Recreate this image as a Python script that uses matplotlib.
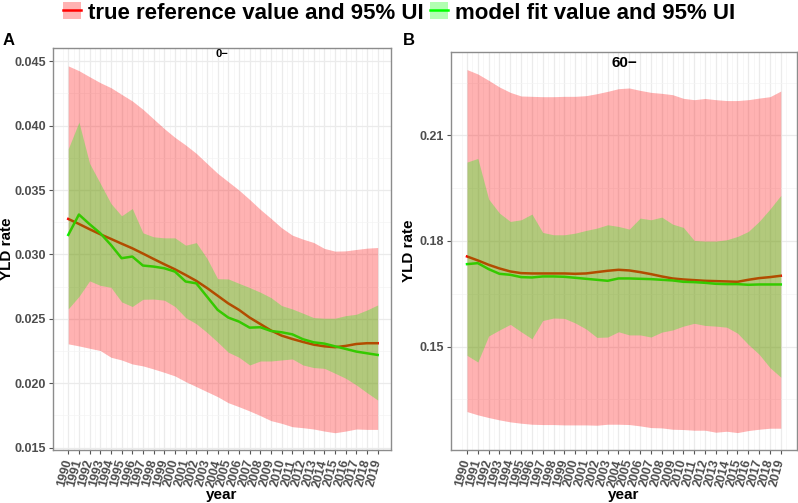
import matplotlib
matplotlib.use("Agg")
import matplotlib.pyplot as plt
from matplotlib.patches import Patch
from matplotlib.lines import Line2D
import numpy as np

plt.rcParams['font.family'] = ['Liberation Sans', 'DejaVu Sans']

years = list(range(1990, 2020))

# panel A, age group "0-"
ref_a = [0.03276, 0.03237, 0.03196, 0.03157, 0.03121, 0.03084, 0.03048, 0.03007, 0.02965, 0.02924,
         0.02885, 0.02841, 0.02795, 0.02740, 0.02680, 0.02620, 0.02570, 0.02510, 0.02460, 0.02410,
         0.02370, 0.02344, 0.02321, 0.02300, 0.02287, 0.02280, 0.02290, 0.02305, 0.02311, 0.02311]
ref_a_lo = [0.02306, 0.02290, 0.02272, 0.02254, 0.02202, 0.02181, 0.02150, 0.02135, 0.02111, 0.02085,
            0.02057, 0.02013, 0.01974, 0.01935, 0.01896, 0.01849, 0.01818, 0.01785, 0.01749, 0.01710,
            0.01689, 0.01663, 0.01655, 0.01645, 0.01629, 0.01616, 0.01629, 0.01645, 0.01642, 0.01642]
ref_a_hi = [0.04464, 0.04427, 0.04380, 0.04334, 0.04295, 0.04243, 0.04192, 0.04127, 0.04052, 0.03977,
            0.03909, 0.03850, 0.03785, 0.03707, 0.03630, 0.03565, 0.03500, 0.03427, 0.03350, 0.03280,
            0.03207, 0.03150, 0.03119, 0.03093, 0.03047, 0.03026, 0.03028, 0.03039, 0.03049, 0.03054]
fit_a = [0.03152, 0.03310, 0.03235, 0.03165, 0.03074, 0.02971, 0.02984, 0.02914, 0.02906, 0.02893,
         0.02867, 0.02790, 0.02776, 0.02673, 0.02570, 0.02510, 0.02479, 0.02432, 0.02435, 0.02406,
         0.02396, 0.02380, 0.02342, 0.02318, 0.02308, 0.02287, 0.02267, 0.02246, 0.02233, 0.02220]
fit_a_lo = [0.02578, 0.02674, 0.02795, 0.02760, 0.02745, 0.02632, 0.02596, 0.02652, 0.02654, 0.02645,
            0.02596, 0.02510, 0.02462, 0.02395, 0.02320, 0.02241, 0.02202, 0.02142, 0.02173, 0.02173,
            0.02181, 0.02189, 0.02142, 0.02122, 0.02116, 0.02078, 0.02039, 0.01987, 0.01927, 0.01870]
fit_a_hi = [0.03821, 0.04028, 0.03707, 0.03552, 0.03396, 0.03300, 0.03357, 0.03168, 0.03137, 0.03129,
            0.03129, 0.03072, 0.03092, 0.02970, 0.02812, 0.02810, 0.02776, 0.02743, 0.02707, 0.02665,
            0.02603, 0.02577, 0.02544, 0.02510, 0.02505, 0.02505, 0.02525, 0.02536, 0.02569, 0.02608]

# panel B, age group "60-"
ref_b = [0.17560, 0.17447, 0.17323, 0.17219, 0.17134, 0.17086, 0.17077, 0.17077, 0.17077, 0.17077,
         0.17067, 0.17077, 0.17115, 0.17153, 0.17181, 0.17162, 0.17115, 0.17058, 0.16992, 0.16935,
         0.16906, 0.16887, 0.16868, 0.16859, 0.16850, 0.16840, 0.16897, 0.16944, 0.16973, 0.17011]
ref_b_lo = [0.13152, 0.13058, 0.12982, 0.12915, 0.12859, 0.12821, 0.12792, 0.12783, 0.12783, 0.12773,
            0.12773, 0.12773, 0.12764, 0.12792, 0.12792, 0.12783, 0.12745, 0.12697, 0.12688, 0.12650,
            0.12641, 0.12622, 0.12622, 0.12565, 0.12593, 0.12555, 0.12612, 0.12650, 0.12679, 0.12679]
ref_b_hi = [0.22870, 0.22745, 0.22565, 0.22375, 0.22223, 0.22120, 0.22110, 0.22100, 0.22100, 0.22110,
            0.22110, 0.22129, 0.22185, 0.22252, 0.22328, 0.22347, 0.22280, 0.22223, 0.22195, 0.22157,
            0.22053, 0.22015, 0.22050, 0.22015, 0.21990, 0.21990, 0.22015, 0.22060, 0.22100, 0.22260]
fit_b = [0.17342, 0.17370, 0.17200, 0.17067, 0.17039, 0.16973, 0.16963, 0.16992, 0.16992, 0.16982,
         0.16954, 0.16925, 0.16897, 0.16868, 0.16935, 0.16935, 0.16925, 0.16916, 0.16897, 0.16878,
         0.16840, 0.16830, 0.16811, 0.16783, 0.16774, 0.16774, 0.16755, 0.16764, 0.16764, 0.16764]
fit_b_lo = [0.1475, 0.1456, 0.1530, 0.1547, 0.1563, 0.1542, 0.1522, 0.1574, 0.1581, 0.1580,
            0.1567, 0.1550, 0.1526, 0.1527, 0.1542, 0.1533, 0.1533, 0.1527, 0.1541, 0.1547,
            0.1558, 0.1566, 0.1560, 0.1558, 0.1555, 0.1538, 0.1506, 0.1478, 0.1440, 0.1413]
fit_b_hi = [0.20242, 0.20346, 0.19190, 0.18792, 0.18555, 0.18602, 0.18764, 0.18242, 0.18176, 0.18176,
            0.18223, 0.18299, 0.18365, 0.18460, 0.18413, 0.18337, 0.18650, 0.18602, 0.18678, 0.18479,
            0.18384, 0.18015, 0.17996, 0.17996, 0.18034, 0.18128, 0.18270, 0.18555, 0.18906, 0.19294]

age_titles = ["0\u2212", "60\u2212"]
panel_tags = ["A", "B"]

RED = "#FF0000"
GREEN = "#00FF00"
TICK_GREY = "#4D4D4D"

fig = plt.figure(figsize=(7.98, 5.03), dpi=100)
ax_a = fig.add_axes([53 / 798, 1 - 450 / 503, (391 - 53) / 798, (450 - 48) / 503])
ax_b = fig.add_axes([451 / 798, 1 - 450 / 503, (797 - 451) / 798, (450 - 52) / 503])


def draw_panel(ax, ref, ref_lo, ref_hi, fit, fit_lo, fit_hi, xlim, ylim, major, minor, fmt,
               title, title_size, title_y):
    # lines go under the ribbons, like in the original
    ax.plot(years, ref, color=RED, lw=1.8, zorder=3)
    ax.plot(years, fit, color=GREEN, lw=1.8, zorder=3)
    ax.fill_between(years, ref_lo, ref_hi, color=RED, alpha=0.3, lw=0, zorder=4)
    ax.fill_between(years, fit_lo, fit_hi, color=GREEN, alpha=0.3, lw=0, zorder=5)

    ax.set_xlim(*xlim)
    ax.set_ylim(*ylim)
    ax.set_xticks(years)
    ax.set_xticks(np.arange(1989.5, 2020.5, 1.0), minor=True)
    ax.set_yticks(major)
    ax.set_yticks(minor, minor=True)
    ax.set_yticklabels([fmt.format(v) for v in major])
    ax.set_xticklabels([str(y) for y in years], rotation=75, ha='right', va='center',
                       rotation_mode='anchor')
    ax.grid(which='major', color='#EBEBEB', lw=0.9, zorder=0)
    ax.grid(which='minor', color='#F4F4F4', lw=0.5, zorder=0)
    ax.set_axisbelow(True)
    ax.tick_params(axis='both', which='major', length=3, width=0.8, color='#555555',
                   labelcolor=TICK_GREY, pad=2)
    ax.tick_params(axis='x', which='major', pad=4)
    ax.tick_params(axis='both', which='minor', length=0)
    for lab in ax.get_yticklabels():
        lab.set_fontsize(9)
        lab.set_fontweight('bold')
    for lab in ax.get_xticklabels():
        lab.set_fontsize(9)
        lab.set_fontweight('bold')
    for sp in ax.spines.values():
        sp.set_color('#8C8C8C')
        sp.set_linewidth(1.0)
    ax.set_xlabel("year", fontsize=11, fontweight='bold', va='center')
    ax.set_ylabel("YLD rate", fontsize=11, fontweight='bold')
    ax.xaxis.set_label_coords(0.5, -45 / 402)
    ax.text(0.5, title_y, title, transform=ax.transAxes, ha='center', va='top',
            fontsize=title_size, fontweight='bold', zorder=6)


draw_panel(ax_a, ref_a, ref_a_lo, ref_a_hi, fit_a, fit_a_lo, fit_a_hi,
           (1988.57, 2020.25), (0.01482, 0.04603),
           [0.015, 0.020, 0.025, 0.030, 0.035, 0.040, 0.045],
           [0.0175, 0.0225, 0.0275, 0.0325, 0.0375, 0.0425],
           "{:.3f}", age_titles[0], 8, 0.997)
draw_panel(ax_b, ref_b, ref_b_lo, ref_b_hi, fit_b, fit_b_lo, fit_b_hi,
           (1988.52, 2020.5), (0.1206, 0.2337),
           [0.15, 0.18, 0.21], [0.135, 0.165, 0.195, 0.225],
           "{:.2f}", age_titles[1], 11, 0.99)

ax_a.yaxis.set_label_coords(-39 / 338, 0.5)
ax_b.yaxis.set_label_coords(-35 / 346, 0.5)

fig.text(3 / 798, 1 - 45 / 503, panel_tags[0], fontsize=12, fontweight='bold', va='baseline')
fig.text(403 / 798, 1 - 45 / 503, panel_tags[1], fontsize=12, fontweight='bold', va='baseline')

handles = [
    (Patch(facecolor=RED, alpha=0.3, lw=0), Line2D([], [], color=RED, lw=1.8)),
    (Patch(facecolor=GREEN, alpha=0.3, lw=0), Line2D([], [], color=GREEN, lw=1.8)),
]
labels = ["true reference value and 95% UI", "model fit value and 95% UI"]
fig.legend(handles, labels, loc='center', bbox_to_anchor=(0.5, 1 - 13 / 503), ncol=2,
           frameon=False, prop={'size': 16, 'weight': 'bold'}, handlelength=0.8,
           handleheight=0.8, handletextpad=0.3, columnspacing=0.3, borderpad=0)

fig.savefig("out.png", dpi=100)
